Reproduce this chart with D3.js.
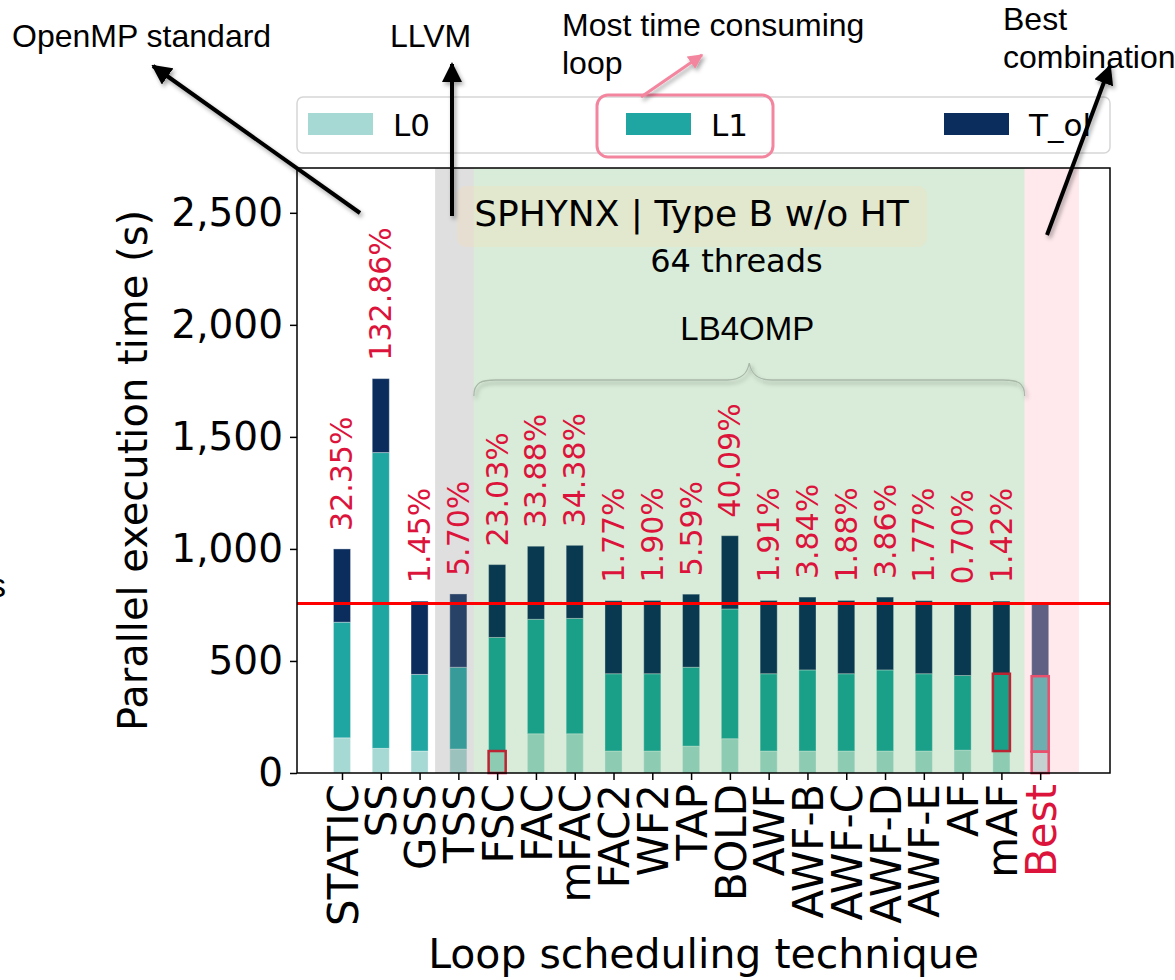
<!DOCTYPE html>
<html>
<head>
<meta charset="utf-8">
<script src="https://cdn.jsdelivr.net/npm/d3@7"></script>
<style>
  body { margin: 0; background: #fff; }
  svg { display: block; }
  .tick text { font-family: "DejaVu Sans", sans-serif; }
  .note { font-family: "Liberation Sans", Arial, sans-serif; }
</style>
</head>
<body>
<svg width="1175" height="980"></svg>
<script>
const techniques = ["STATIC", "SS", "GSS", "TSS", "FSC", "FAC", "mFAC", "FAC2", "WF2", "TAP",
  "BOLD", "AWF", "AWF-B", "AWF-C", "AWF-D", "AWF-E", "AF", "mAF", "Best"];
const L0 = [157, 110, 98, 107, 98, 175, 175, 98, 98, 120, 153, 98, 98, 98, 98, 98, 102, 98, 95];
const L1 = [516, 1320, 342, 365, 507, 511, 515, 345, 345, 352, 579, 345, 362, 345, 362, 345, 333, 345, 337];
const T_ol = [327, 330, 327, 327, 325, 326, 326, 326, 327, 326, 327, 327, 325, 327, 325, 326, 326, 324, 324];
const overhead = ["32.35%", "132.86%", "1.45%", "5.70%", "23.03%", "33.88%", "34.38%", "1.77%", "1.90%",
  "5.59%", "40.09%", "1.91%", "3.84%", "1.88%", "3.86%", "1.77%", "0.70%", "1.42%", ""];
const bestTime = 756;
const yTicks = [0, 500, 1000, 1500, 2000, 2500];
const highlights = [
  { tech: "FSC", seg: "L0" },
  { tech: "mAF", seg: "L1" },
  { tech: "Best", seg: "L0" },
  { tech: "Best", seg: "L1" }
];

const svg = d3.select("svg");
const keys = ["L0", "L1", "T_ol"];
const color = d3.scaleOrdinal().domain(keys).range(["#a6d9d3", "#1fa5a2", "#0b2d5e"]);

const plotL = 297, plotR = 1110, plotT = 168, plotB = 773;
const x = d3.scaleLinear().domain([-1.16, 19.8]).range([plotL, plotR]);
const y = d3.scaleLinear().domain([0, 2700]).range([plotB, plotT]);
const barW = x(0.44) - x(0);

const rows = techniques.map((t, i) => ({ tech: t, i: i, L0: L0[i], L1: L1[i], T_ol: T_ol[i] }));
const series = d3.stack().keys(keys)(rows);

const defs = svg.append("defs");
defs.append("filter").attr("id", "shadow")
  .attr("filterUnits", "userSpaceOnUse")
  .attr("x", 0).attr("y", 0).attr("width", 1175).attr("height", 980)
  .append("feDropShadow")
  .attr("dx", 2).attr("dy", 3).attr("stdDeviation", 2)
  .attr("flood-color", "#000").attr("flood-opacity", 0.35);

function marker(id, fill) {
  defs.append("marker")
    .attr("id", id)
    .attr("viewBox", "0 0 10 10")
    .attr("refX", 9).attr("refY", 5)
    .attr("markerWidth", 5).attr("markerHeight", 5)
    .attr("markerUnits", "strokeWidth")
    .attr("orient", "auto")
    .append("path")
    .attr("d", "M0,0 L10,5 L0,10 z")
    .attr("fill", fill);
}
marker("head", "#000");
marker("headPink", "#f4859f");

// bars
const barG = svg.append("g");
barG.selectAll("g")
  .data(series)
  .join("g")
  .attr("fill", d => color(d.key))
  .selectAll("rect")
  .data(d => d)
  .join("rect")
  .attr("x", d => x(d.data.i) - barW / 2)
  .attr("width", barW)
  .attr("y", d => y(d[1]))
  .attr("height", d => y(d[0]) - y(d[1]))
  .attr("stroke", "#fff")
  .attr("stroke-opacity", 0.35)
  .attr("stroke-width", 1);

// highlighted segments
barG.selectAll("rect.hl")
  .data(highlights)
  .join("rect")
  .attr("class", "hl")
  .attr("fill", "none")
  .attr("stroke", "#dc143c")
  .attr("stroke-width", 2.5)
  .attr("x", d => x(techniques.indexOf(d.tech)) - barW / 2)
  .attr("width", barW)
  .attr("y", d => {
    const s = series[keys.indexOf(d.seg)][techniques.indexOf(d.tech)];
    return y(s[1]);
  })
  .attr("height", d => {
    const s = series[keys.indexOf(d.seg)][techniques.indexOf(d.tech)];
    return y(s[0]) - y(s[1]);
  });

// shaded spans over the bars
const spans = [
  { from: 2.4, to: 3.4, fill: "#808080", op: 0.25 },
  { from: 3.4, to: 17.6, fill: "#008000", op: 0.15 },
  { from: 17.6, to: 19.0, fill: "#ffc0cb", op: 0.35 }
];
svg.append("g").selectAll("rect")
  .data(spans)
  .join("rect")
  .attr("x", d => x(d.from))
  .attr("width", d => x(d.to) - x(d.from))
  .attr("y", plotT)
  .attr("height", plotB - plotT)
  .attr("fill", d => d.fill)
  .attr("fill-opacity", d => d.op);

// brace over LB4OMP group
const bx0 = x(3.4), bx1 = x(17.6), bxm = (bx0 + bx1) / 2;
const by = 380;
svg.append("path")
  .attr("d", `M${bx0},${by + 16} C${bx0},${by + 2} ${bx0 + 8},${by} ${bx0 + 22},${by}
    L${bxm - 22},${by} C${bxm - 8},${by} ${bxm - 2},${by - 6} ${bxm},${by - 17}
    C${bxm + 2},${by - 6} ${bxm + 8},${by} ${bxm + 22},${by}
    L${bx1 - 22},${by} C${bx1 - 8},${by} ${bx1},${by + 2} ${bx1},${by + 16}`)
  .attr("fill", "none")
  .attr("stroke", "#a9b8a9")
  .attr("stroke-width", 1.3)
  .attr("filter", "url(#shadow)");

svg.append("text")
  .attr("class", "note")
  .attr("x", bxm - 2)
  .attr("y", 340)
  .attr("text-anchor", "middle")
  .attr("font-size", 33)
  .text("LB4OMP");

// best time reference
svg.append("line")
  .attr("x1", plotL).attr("x2", plotR)
  .attr("y1", y(bestTime)).attr("y2", y(bestTime))
  .attr("stroke", "#ff0000")
  .attr("stroke-width", 3);

// overhead labels
svg.append("g").selectAll("text")
  .data(rows)
  .join("text")
  .attr("transform", d => `translate(${x(d.i)}, ${y(d.L0 + d.L1 + d.T_ol) - 18}) rotate(-90)`)
  .attr("dy", "0.35em")
  .attr("font-family", "DejaVu Sans, sans-serif")
  .attr("font-size", 30)
  .attr("fill", "#dc143c")
  .text((d, i) => overhead[i]);

// title box
svg.append("rect")
  .attr("x", 457).attr("y", 186)
  .attr("width", 470).attr("height", 61)
  .attr("rx", 9)
  .attr("fill", "#f5deb3")
  .attr("fill-opacity", 0.3);
svg.append("text")
  .attr("x", x(9.01)).attr("y", 226)
  .attr("text-anchor", "middle")
  .attr("font-family", "DejaVu Sans, sans-serif")
  .attr("font-size", 36)
  .text("SPHYNX | Type B w/o HT");
svg.append("text")
  .attr("x", x(10.17)).attr("y", 272)
  .attr("text-anchor", "middle")
  .attr("font-family", "DejaVu Sans, sans-serif")
  .attr("font-size", 32)
  .text("64 threads");

// axes
const yAxis = svg.append("g")
  .attr("transform", `translate(${plotL},0)`)
  .call(d3.axisLeft(y).tickValues(yTicks).tickFormat(d3.format(",")).tickSize(7).tickPadding(7).tickSizeOuter(0));
yAxis.selectAll("text").attr("font-size", 39).attr("fill", "#000");
yAxis.selectAll("line").attr("stroke-width", 1.5);

const xAxis = svg.append("g")
  .attr("transform", `translate(0,${plotB})`)
  .call(d3.axisBottom(x).tickValues(d3.range(techniques.length)).tickFormat(i => techniques[i]).tickSize(7).tickSizeOuter(0));
xAxis.selectAll("line").attr("stroke-width", 1.5);
xAxis.selectAll("text")
  .attr("transform", "rotate(-90)")
  .attr("text-anchor", "end")
  .attr("x", -11).attr("y", 0)
  .attr("dy", "0.36em")
  .attr("font-size", 42)
  .attr("fill", (d, i) => techniques[i] === "Best" ? "#dc143c" : "#000");
svg.selectAll(".domain").remove();

svg.append("rect")
  .attr("x", plotL).attr("y", plotT)
  .attr("width", plotR - plotL).attr("height", plotB - plotT)
  .attr("fill", "none")
  .attr("stroke", "#000")
  .attr("stroke-width", 1.5);

svg.append("text")
  .attr("transform", `translate(147, ${(plotT + plotB) / 2}) rotate(-90)`)
  .attr("text-anchor", "middle")
  .attr("font-family", "DejaVu Sans, sans-serif")
  .attr("font-size", 40)
  .text("Parallel execution time (s)");

svg.append("text")
  .attr("x", (plotL + plotR) / 2)
  .attr("y", 968)
  .attr("text-anchor", "middle")
  .attr("font-family", "DejaVu Sans, sans-serif")
  .attr("font-size", 41)
  .text("Loop scheduling technique");

// legend
const legendG = svg.append("g");
legendG.append("rect")
  .attr("x", plotL).attr("y", 97)
  .attr("width", plotR - plotL).attr("height", 56)
  .attr("rx", 6)
  .attr("fill", "#fff").attr("fill-opacity", 0.8)
  .attr("stroke", "#d6d6d6").attr("stroke-width", 1.5);

const legendItems = legendG.selectAll("g")
  .data(keys)
  .join("g")
  .attr("transform", (d, i) => `translate(${308 + i * 318}, 113)`);
legendItems.append("rect")
  .attr("width", 65).attr("height", 22)
  .attr("fill", d => color(d));
legendItems.append("text")
  .attr("x", 85).attr("y", 23)
  .attr("font-family", "DejaVu Sans, sans-serif")
  .attr("font-size", 31)
  .text(d => d);

legendG.append("rect")
  .attr("x", 597).attr("y", 95)
  .attr("width", 176).attr("height", 62)
  .attr("rx", 11)
  .attr("fill", "none")
  .attr("stroke", "#f4859f")
  .attr("stroke-width", 3);

// annotations
const notes = [
  { lines: ["OpenMP standard"], x: 12, y: 47 },
  { lines: ["LLVM"], x: 390, y: 47 },
  { lines: ["Most time consuming", "loop"], x: 562, y: 36 },
  { lines: ["Best", "combination"], x: 1003, y: 30 }
];
notes.forEach(n => {
  const t = svg.append("text")
    .attr("class", "note")
    .attr("x", n.x).attr("y", n.y)
    .attr("font-size", 32);
  n.lines.forEach((l, k) => {
    t.append("tspan").attr("x", n.x).attr("dy", k === 0 ? 0 : 38).text(l);
  });
});

svg.append("text")
  .attr("class", "note")
  .attr("x", 6).attr("y", 597)
  .attr("text-anchor", "end")
  .attr("font-size", 34)
  .text("s");

const arrows = [
  { x1: 360, y1: 213, x2: 153, y2: 66, c: "#000", m: "head", w: 4 },
  { x1: 452, y1: 216, x2: 452, y2: 64, c: "#000", m: "head", w: 4 },
  { x1: 1047, y1: 235, x2: 1110, y2: 66, c: "#000", m: "head", w: 4 },
  { x1: 641, y1: 97, x2: 702, y2: 55, c: "#f4859f", m: "headPink", w: 3 }
];
svg.append("g").selectAll("line")
  .data(arrows)
  .join("line")
  .attr("x1", d => d.x1).attr("y1", d => d.y1)
  .attr("x2", d => d.x2).attr("y2", d => d.y2)
  .attr("stroke", d => d.c)
  .attr("stroke-width", d => d.w)
  .attr("marker-end", d => `url(#${d.m})`)
  .attr("filter", "url(#shadow)");
</script>
</body>
</html>
